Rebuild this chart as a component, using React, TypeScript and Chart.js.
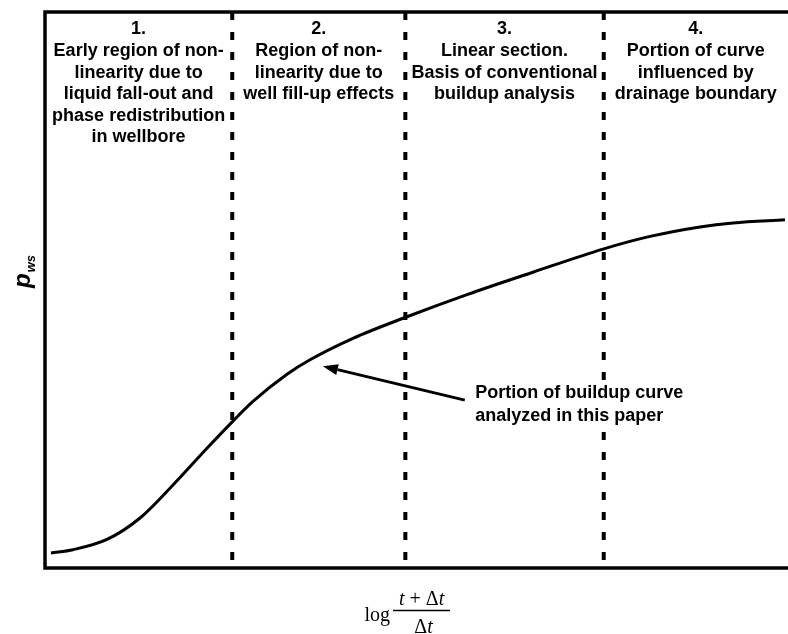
import React, { useEffect, useRef } from "react";
import { Chart, registerables } from "chart.js";

Chart.register(...registerables);

// Buildup curve (x: log((t+Δt)/Δt) in arbitrary units, y: p_ws in arbitrary units)
const curveX = [0.08, 0.377, 0.834, 1.279, 1.723, 2.18, 2.517, 2.799, 3.257, 3.567, 4.145, 4.845, 5.68, 6.568, 7.51, 8.143, 8.816, 9.26, 9.96];
const curveY = [0.27, 0.329, 0.513, 0.899, 1.493, 2.153, 2.624, 2.995, 3.484, 3.745, 4.131, 4.505, 4.917, 5.32, 5.736, 5.964, 6.135, 6.207, 6.263];

// Region boundaries (dashed lines)
const boundaries = [2.52, 4.85, 7.52];

const regionHeaders: string[][] = [
  ["1.", "Early region of non-", "linearity due to", "liquid fall-out and", "phase redistribution", "in wellbore"],
  ["2.", "Region of non-", "linearity due to", "well fill-up effects"],
  ["3.", "Linear section.", "Basis of conventional", "buildup analysis"],
  ["4.", "Portion of curve", "influenced by", "drainage boundary"],
];

const annotationLines = ["Portion of buildup curve", "analyzed in this paper"];
// arrow tail / tip in data units
const arrowTail = { x: 5.65, y: 3.02 };
const arrowTip = { x: 3.74, y: 3.63 };
const annotationX = 5.79;
const annotationY = 3.15;

const X_MIN = 0, X_MAX = 10, Y_MIN = 0, Y_MAX = 10;

const SANS = "'Liberation Sans', Arial, sans-serif";
const SERIF = "'Liberation Serif', 'Times New Roman', serif";

const overlayPlugin = {
  id: "overlay",
  afterDatasetsDraw(chart: any) {
    const { ctx, chartArea: a, scales } = chart;
    const xs = scales.x, ys = scales.y;
    ctx.save();
    ctx.fillStyle = "#000";
    ctx.strokeStyle = "#000";

    // frame (left, top, bottom)
    ctx.lineWidth = 3.5;
    ctx.lineCap = "square";
    ctx.beginPath();
    ctx.moveTo(a.right, a.top);
    ctx.lineTo(a.left, a.top);
    ctx.lineTo(a.left, a.bottom);
    ctx.lineTo(a.right, a.bottom);
    ctx.stroke();

    // region headers
    ctx.font = `bold 18px ${SANS}`;
    ctx.textAlign = "center";
    ctx.textBaseline = "middle";
    const edges = [X_MIN, ...boundaries, X_MAX];
    regionHeaders.forEach((lines, i) => {
      const cx = (xs.getPixelForValue(edges[i]) + xs.getPixelForValue(edges[i + 1])) / 2;
      lines.forEach((ln, j) => {
        ctx.fillText(ln, cx, a.top + 17.5 + j * 21.6);
      });
    });

    // annotation text box (white background hides the dashed line behind it)
    ctx.textAlign = "left";
    ctx.textBaseline = "middle";
    const ax = xs.getPixelForValue(annotationX), ay = ys.getPixelForValue(annotationY);
    const boxW = Math.max(...annotationLines.map((l) => ctx.measureText(l).width));
    ctx.fillStyle = "#fff";
    ctx.fillRect(ax - 3, ay - 12, boxW + 6, 23 * (annotationLines.length - 1) + 24);
    ctx.fillStyle = "#000";
    annotationLines.forEach((ln, j) => ctx.fillText(ln, ax, ay + j * 23));

    // annotation arrow
    const tx = xs.getPixelForValue(arrowTail.x), ty = ys.getPixelForValue(arrowTail.y);
    const hx = xs.getPixelForValue(arrowTip.x), hy = ys.getPixelForValue(arrowTip.y);
    const ang = Math.atan2(hy - ty, hx - tx);
    const headLen = 15, headW = 5.5;
    const bx = hx - headLen * Math.cos(ang), by = hy - headLen * Math.sin(ang);
    ctx.lineWidth = 3;
    ctx.lineCap = "butt";
    ctx.beginPath();
    ctx.moveTo(tx, ty);
    ctx.lineTo(bx, by);
    ctx.stroke();
    ctx.beginPath();
    ctx.moveTo(hx, hy);
    ctx.lineTo(bx + headW * Math.sin(ang), by - headW * Math.cos(ang));
    ctx.lineTo(bx - headW * Math.sin(ang), by + headW * Math.cos(ang));
    ctx.closePath();
    ctx.fill();

    // y-axis title: p_ws (rotated)
    ctx.save();
    ctx.translate(30, 288);
    ctx.rotate(-Math.PI / 2);
    ctx.textAlign = "left";
    ctx.textBaseline = "alphabetic";
    ctx.font = `italic bold 24px ${SANS}`;
    ctx.fillText("p", 0, 0);
    const pw = ctx.measureText("p").width;
    ctx.font = `italic bold 13px ${SANS}`;
    ctx.fillText("ws", pw + 1, 5);
    ctx.restore();

    // x-axis title: log (t + Δt)/Δt
    const cx = (a.left + a.right) / 2;
    ctx.textBaseline = "alphabetic";
    ctx.font = `20px ${SERIF}`;
    ctx.textAlign = "left";
    const logW = ctx.measureText("log").width;
    const logX = cx - 52;
    ctx.fillText("log", logX, 621);
    const barL = logX + logW + 3, barR = barL + 57;
    const fc = (barL + barR) / 2;
    ctx.lineWidth = 1.3;
    ctx.beginPath();
    ctx.moveTo(barL, 610.5);
    ctx.lineTo(barR, 610.5);
    ctx.stroke();
    // numerator pieces
    const pieces: [string, string][] = [["t", "italic"], [" + ", "normal"], ["Δ", "normal"], ["t", "italic"]];
    const widths = pieces.map(([s, st]) => { ctx.font = `${st} 20px ${SERIF}`; return ctx.measureText(s).width; });
    let px = fc - widths.reduce((p, c) => p + c, 0) / 2;
    pieces.forEach(([s, st], i) => { ctx.font = `${st} 20px ${SERIF}`; ctx.fillText(s, px, 605); px += widths[i]; });
    const den: [string, string][] = [["Δ", "normal"], ["t", "italic"]];
    const dw = den.map(([s, st]) => { ctx.font = `${st} 20px ${SERIF}`; return ctx.measureText(s).width; });
    px = fc + 2 - dw.reduce((p, c) => p + c, 0) / 2;
    den.forEach(([s, st], i) => { ctx.font = `${st} 20px ${SERIF}`; ctx.fillText(s, px, 633); px += dw[i]; });

    ctx.restore();
  },
};

export default function App() {
  const ref = useRef<HTMLCanvasElement | null>(null);
  useEffect(() => {
    if (!ref.current) return;
    const curve = curveX.map((x, i) => ({ x, y: curveY[i] }));
    const dashed = boundaries.map((b) => ({
      data: [{ x: b, y: Y_MAX }, { x: b, y: Y_MIN }],
      borderColor: "#000",
      borderWidth: 4,
      borderDash: [8, 12],
      pointRadius: 0,
      showLine: true,
      clip: false as any,
    }));
    const chart = new Chart(ref.current, {
      type: "scatter",
      data: {
        datasets: [
          ...dashed,
          {
            data: curve,
            borderColor: "#000",
            borderWidth: 3,
            pointRadius: 0,
            showLine: true,
            cubicInterpolationMode: "monotone",
            clip: false as any,
          } as any,
        ],
      },
      options: {
        responsive: false,
        animation: false,
        events: [],
        layout: { padding: { left: 45, right: 0, top: 12, bottom: 66 } },
        plugins: { legend: { display: false }, tooltip: { enabled: false }, title: { display: false } },
        scales: {
          x: { type: "linear", min: X_MIN, max: X_MAX, display: false },
          y: { type: "linear", min: Y_MIN, max: Y_MAX, display: false },
        },
      },
      plugins: [overlayPlugin],
    });
    return () => chart.destroy();
  }, []);
  return (
    <div style={{ position: "absolute", left: 0, top: 0, width: 788, height: 634, background: "#fff" }}>
      <canvas ref={ref} width={788} height={634} />
    </div>
  );
}
